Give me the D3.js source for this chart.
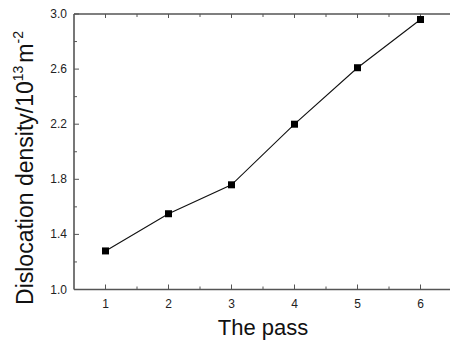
<!DOCTYPE html>
<html>
<head>
<meta charset="utf-8">
<script src="https://cdn.jsdelivr.net/npm/d3@7"></script>
<style>
body { margin: 0; background: #fff; }
text { font-family: "Liberation Sans", Arial, sans-serif; }
</style>
</head>
<body>
<svg id="chart" width="450" height="342"></svg>
<script>
// data
var passes = [1, 2, 3, 4, 5, 6]
var density = [1.28, 1.55, 1.76, 2.20, 2.61, 2.96]
var xTicks = [1, 2, 3, 4, 5, 6]
var yTicks = [1.0, 1.4, 1.8, 2.2, 2.6, 3.0]

var plotL = 74, plotR = 452, plotT = 14, plotB = 289.5

var svg = d3.select("#chart")

var x = d3.scaleLinear().domain([0.5, 6.5]).range([plotL, plotR])
var y = d3.scaleLinear().domain([1.0, 3.0]).range([plotB, plotT])

var axisColor = "#555"

// minor ticks
var xMinor = d3.range(1.5, 6.5, 1)
var yMinor = [1.2, 1.6, 2.0, 2.4, 2.8]

function tickLines(g, vals, fn){
	g.selectAll("line").data(vals).enter().append("line")
		.attr("stroke", axisColor)
		.attr("stroke-width", 1)
		.each(fn)
}

var ax = svg.append("g")

// frame (bottom, top, left)
ax.append("line").attr("x1", plotL).attr("x2", plotR).attr("y1", plotB).attr("y2", plotB)
	.attr("stroke", axisColor).attr("stroke-width", 1.6)
ax.append("line").attr("x1", plotL).attr("x2", plotR).attr("y1", plotT).attr("y2", plotT)
	.attr("stroke", axisColor).attr("stroke-width", 1.6)
ax.append("line").attr("x1", plotL).attr("x2", plotL).attr("y1", plotT).attr("y2", plotB)
	.attr("stroke", axisColor).attr("stroke-width", 1.6)

tickLines(ax.append("g"), xTicks, function(d){
	d3.select(this).attr("x1", x(d)).attr("x2", x(d)).attr("y1", plotB).attr("y2", plotB - 5)
})
tickLines(ax.append("g"), xMinor, function(d){
	d3.select(this).attr("x1", x(d)).attr("x2", x(d)).attr("y1", plotB).attr("y2", plotB - 3)
})
tickLines(ax.append("g"), xTicks, function(d){
	d3.select(this).attr("x1", x(d)).attr("x2", x(d)).attr("y1", plotT).attr("y2", plotT + 4)
})
tickLines(ax.append("g"), xMinor, function(d){
	d3.select(this).attr("x1", x(d)).attr("x2", x(d)).attr("y1", plotT).attr("y2", plotT + 3)
})
tickLines(ax.append("g"), yTicks, function(d){
	d3.select(this).attr("x1", plotL).attr("x2", plotL + 5).attr("y1", y(d)).attr("y2", y(d))
})
tickLines(ax.append("g"), yMinor, function(d){
	d3.select(this).attr("x1", plotL).attr("x2", plotL + 3).attr("y1", y(d)).attr("y2", y(d))
})

// tick labels
svg.append("g").selectAll("text").data(xTicks).enter().append("text")
	.attr("x", function(d){ return x(d) })
	.attr("y", plotB + 18)
	.attr("text-anchor", "middle")
	.attr("font-size", 12)
	.attr("fill", "#222")
	.text(function(d){ return d })

svg.append("g").selectAll("text").data(yTicks).enter().append("text")
	.attr("x", plotL - 7)
	.attr("y", function(d){ return y(d) + 4 })
	.attr("text-anchor", "end")
	.attr("font-size", 12)
	.attr("fill", "#222")
	.text(function(d){ return d.toFixed(1) })

// line + markers
var line = d3.line()
	.x(function(d, i){ return x(passes[i]) })
	.y(function(d){ return y(d) })

svg.append("path")
	.datum(density)
	.attr("d", line)
	.attr("fill", "none")
	.attr("stroke", "#111")
	.attr("stroke-width", 1.1)

svg.append("g").selectAll("rect").data(density).enter().append("rect")
	.attr("x", function(d, i){ return x(passes[i]) - 3.5 })
	.attr("y", function(d){ return y(d) - 3.5 })
	.attr("width", 7)
	.attr("height", 7)
	.attr("fill", "#000")

// axis titles
svg.append("text")
	.attr("x", 263)
	.attr("y", 335)
	.attr("text-anchor", "middle")
	.attr("font-size", 22)
	.attr("fill", "#111")
	.text("The pass")

var yl = svg.append("text")
	.attr("transform", "translate(33,168) rotate(-90)")
	.attr("text-anchor", "middle")
	.attr("font-size", 23)
	.attr("fill", "#111")
yl.append("tspan").text("Dislocation density/10")
yl.append("tspan").attr("font-size", 14).attr("dy", -10).text("13")
yl.append("tspan").attr("dy", 10).attr("dx", 3).text("m")
yl.append("tspan").attr("font-size", 14).attr("dy", -10).text("-2")
</script>
</body>
</html>
